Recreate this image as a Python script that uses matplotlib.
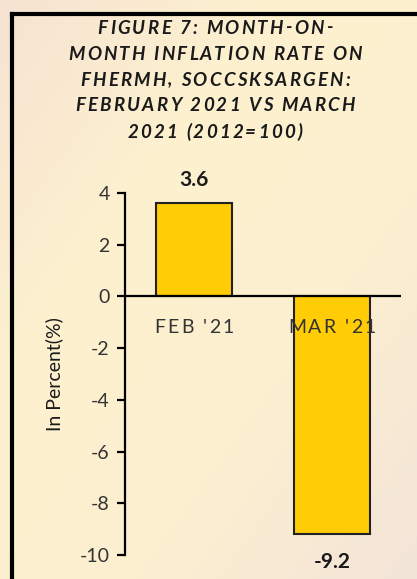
import numpy as np
import matplotlib
matplotlib.use("Agg")
import matplotlib.pyplot as plt
from matplotlib.colors import LinearSegmentedColormap
from matplotlib.lines import Line2D

plt.rcParams["axes.unicode_minus"] = False

# data
months = ["FEB '21", "MAR '21"]
rates = [3.6, -9.2]
value_labels = ["3.6", "-9.2"]
title_lines = ["FIGURE 7: MONTH-ON-",
               "MONTH INFLATION RATE ON",
               "FHERMH, SOCCSKSARGEN:",
               "FEBRUARY 2021 VS MARCH",
               "2021 (2012=100)"]

W, H = 417, 579
fig = plt.figure(figsize=(W / 100, H / 100), dpi=100)
renderer = fig.canvas.get_renderer()

# background gradient
bg = fig.add_axes([0, 0, 1, 1], zorder=-5)
cmap = LinearSegmentedColormap.from_list("bg", ["#f6e3d2", "#fdf1cf", "#fcefd0", "#f3e4d9"])
xx, yy = np.meshgrid(np.linspace(0, 1, 200), np.linspace(0, 1, 200))
bg.imshow((xx + yy) / 2, cmap=cmap, aspect="auto", extent=[0, 1, 0, 1], origin="upper")
bg.axis("off")

# frame (left and top edges visible)
fig.add_artist(Line2D([11.5 / W, 11.5 / W], [0, 1 - 13.5 / H], color="black", lw=3,
                      transform=fig.transFigure, solid_capstyle="projecting"))
fig.add_artist(Line2D([11.5 / W, 1.0], [1 - 13.5 / H, 1 - 13.5 / H], color="black", lw=3,
                      transform=fig.transFigure, solid_capstyle="projecting"))


def text_w(s, **kw):
    t = fig.text(0, 0, s, **kw)
    w = t.get_window_extent(renderer).width
    t.remove()
    return w


def spaced_text(x, y, s, gap, **kw):
    # x, y are pixels from bottom-left, text centred on x
    ws = []
    for ch in s:
        if ch == " ":
            ws.append(text_w("n n", **kw) - text_w("nn", **kw))
        else:
            ws.append(text_w(ch, **kw))
    total = sum(ws) + gap * (len(s) - 1)
    cx = x - total / 2
    for ch, w in zip(s, ws):
        if ch != " ":
            fig.text(cx / W, y / H, ch, ha="left", va="center", **kw)
        cx += w + gap


title_kw = dict(family="Lato", weight="bold", style="italic", size=13.5, color="#1a1a1a")
for i, line in enumerate(title_lines):
    spaced_text(215, H - (28 + 26 * i), line, 2.2, **title_kw)

ax = fig.add_axes([125 / W, 1 - 555 / H, 276 / W, (555 - 193) / H])
ax.set_facecolor("none")
x = np.arange(len(months))
ax.bar(x, rates, width=0.55, color="#ffcc05", edgecolor="#222222", linewidth=1.5, zorder=2)
ax.axhline(0, color="black", lw=1.6, zorder=3)
ax.set_xlim(-0.5, 1.5)
ax.set_ylim(-10, 4)
ax.set_yticks(np.arange(-10, 5, 2))
ax.set_xticks([])
for s in ["top", "right", "bottom"]:
    ax.spines[s].set_visible(False)
ax.spines["left"].set_linewidth(1.6)
ax.tick_params(axis="y", direction="out", length=6, width=1.6, labelsize=14,
               labelcolor="#333333", pad=5)
for lab in ax.get_yticklabels():
    lab.set_family("Lato")
ax.set_ylabel("In Percent(%)", family="Lato", size=14, color="#1a1a1a", labelpad=12)

tick_kw = dict(family="Lato", size=14, color="#333333")
for xi, m in zip(x, months):
    px, py = ax.transData.transform((xi, 0))
    spaced_text(px, py - 31, m, 2.2, **tick_kw)

for xi, v, lab in zip(x, rates, value_labels):
    px, py = ax.transData.transform((xi, v))
    off = 23 if v > 0 else -28
    fig.text(px / W, (py + off) / H, lab, ha="center", va="center",
             family="Lato", weight="bold", size=15, color="#1a1a1a")

fig.savefig("out.png", dpi=100)
